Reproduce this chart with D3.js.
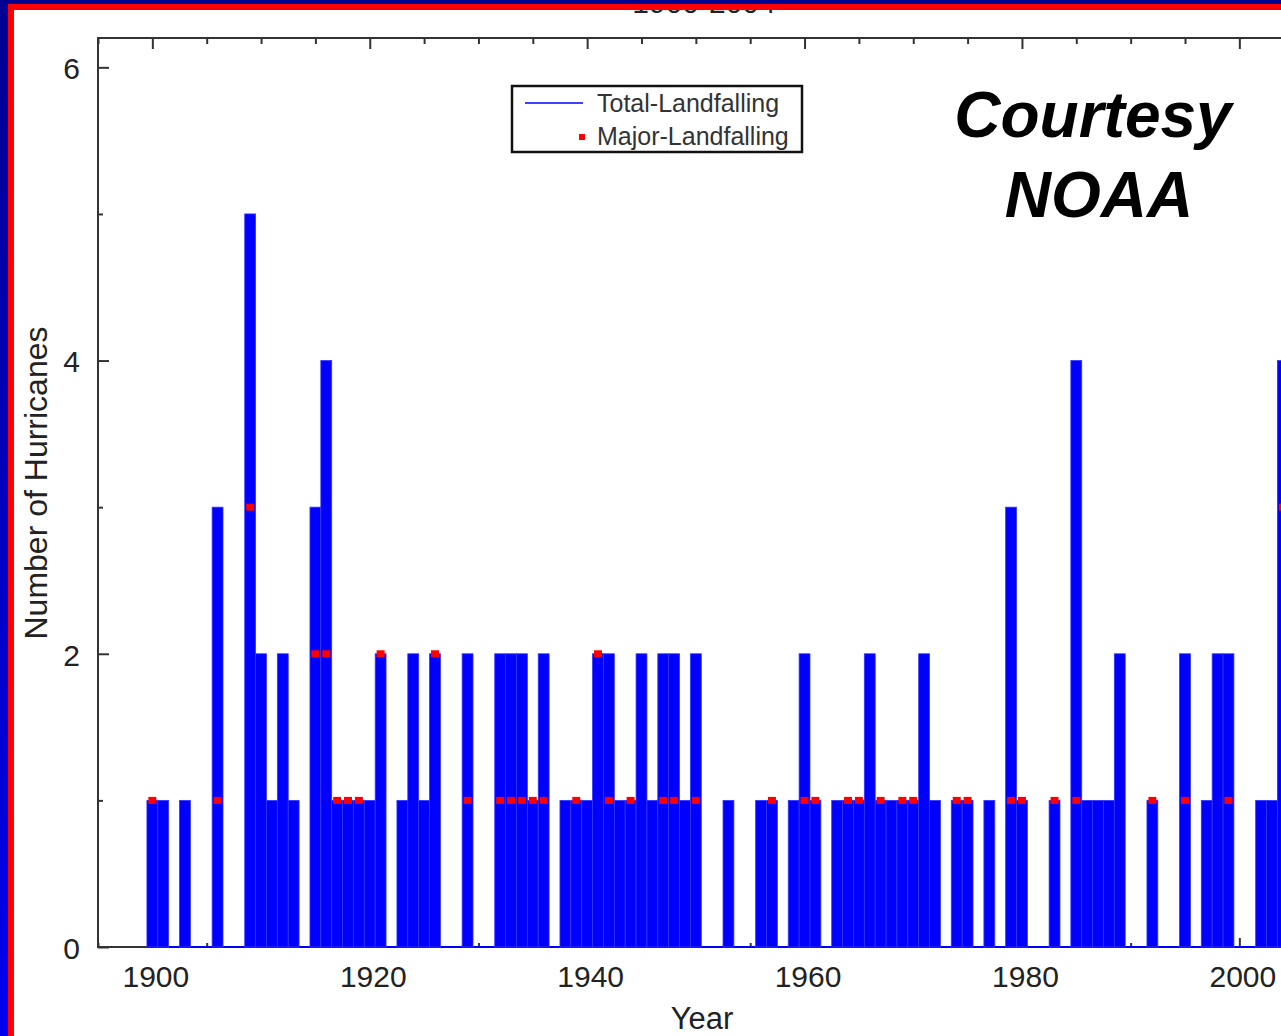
<!DOCTYPE html>
<html>
<head>
<meta charset="utf-8">
<script src="https://cdn.jsdelivr.net/npm/d3@7"></script>
<style>
  html, body { margin: 0; padding: 0; background: #fff; overflow: hidden; }
  text { font-family: "Liberation Sans", Arial, sans-serif; }
</style>
</head>
<body>
<svg id="chart" width="1281" height="1036"></svg>
<script>
// landfalling hurricanes per year (years with zero are left out)
var years = [1900, 1901, 1903, 1906, 1909, 1910, 1911, 1912, 1913, 1915, 1916, 1917, 1918, 1919, 1920,
  1921, 1923, 1924, 1925, 1926, 1929, 1932, 1933, 1934, 1935, 1936, 1938, 1939, 1940, 1941, 1942,
  1943, 1944, 1945, 1946, 1947, 1948, 1949, 1950, 1953, 1956, 1957, 1959, 1960, 1961, 1963, 1964,
  1965, 1966, 1967, 1968, 1969, 1970, 1971, 1972, 1974, 1975, 1977, 1979, 1980, 1983, 1985, 1986,
  1987, 1988, 1989, 1992, 1995, 1997, 1998, 1999, 2002, 2003, 2004];
var totalLandfalling = [1, 1, 1, 3, 5, 2, 1, 2, 1, 3, 4, 1, 1, 1, 1,
  2, 1, 2, 1, 2, 2, 2, 2, 2, 1, 2, 1, 1, 1, 2, 2,
  1, 1, 2, 1, 2, 2, 1, 2, 1, 1, 1, 1, 2, 1, 1, 1,
  1, 2, 1, 1, 1, 1, 2, 1, 1, 1, 1, 3, 1, 1, 4, 1,
  1, 1, 2, 1, 2, 1, 2, 2, 1, 1, 4];
var majorLandfalling = [1, 0, 0, 1, 3, 0, 0, 0, 0, 2, 2, 1, 1, 1, 0,
  2, 0, 0, 0, 2, 1, 1, 1, 1, 1, 1, 0, 1, 0, 2, 1,
  0, 1, 0, 0, 1, 1, 0, 1, 0, 0, 1, 0, 1, 1, 0, 1,
  1, 0, 1, 0, 1, 1, 0, 0, 1, 1, 0, 1, 1, 1, 1, 0,
  0, 0, 0, 1, 1, 0, 0, 1, 0, 0, 3];

var yMajorTicks = [0, 2, 4, 6];
var yMinorTicks = [1, 3, 5];
var xLabelTicks = [1900, 1920, 1940, 1960, 1980, 2000];
var legendLabels = ["Total-Landfalling", "Major-Landfalling"];

var svg = d3.select("#chart"),
    width = +svg.attr("width"),
    height = +svg.attr("height");

var frameLeft = 98, frameTop = 38, baseY = 947;

var x = d3.scaleLinear().domain([1895, 2010]).range([frameLeft, frameLeft + 115 * 10.87]);
var y = d3.scaleLinear().domain([0, 6.2]).range([baseY, frameTop]);

var data = years.map(function(yr, i) {
  return { year: yr, total: totalLandfalling[i], major: majorLandfalling[i] };
});

// slide frame
var defs = svg.append("defs");
var grad = defs.append("linearGradient").attr("id", "edge").attr("x1", 0).attr("y1", 0).attr("x2", 0).attr("y2", 1);
grad.append("stop").attr("offset", "0%").attr("stop-color", "#000090");
grad.append("stop").attr("offset", "100%").attr("stop-color", "#0000f0");
svg.append("rect").attr("width", width).attr("height", height).attr("fill", "url(#edge)");
svg.append("rect").attr("x", 8).attr("y", 4).attr("width", width).attr("height", height).attr("fill", "#ff0000");
svg.append("rect").attr("x", 14).attr("y", 10).attr("width", width).attr("height", height).attr("fill", "#fff");

// title, mostly hidden under the frame (as in the slide)
var chart = svg.append("g");
chart.append("text")
  .attr("x", 704).attr("y", 13)
  .attr("text-anchor", "middle")
  .attr("font-size", 30).attr("fill", "#222")
  .text("1900-2004");

// axes
function styleAxis(g) {
  g.select(".domain").remove();
  g.selectAll(".tick line").attr("stroke", "#333").attr("stroke-width", 2);
}
var minorYears = d3.range(1895, 2011, 5).filter(function(v) { return xLabelTicks.indexOf(v) < 0; });

chart.append("g").attr("transform", "translate(0," + frameTop + ")")
  .call(d3.axisTop(x).tickValues(minorYears).tickSize(-6).tickFormat(""))
  .call(styleAxis);
chart.append("g").attr("transform", "translate(0," + frameTop + ")")
  .call(d3.axisTop(x).tickValues(xLabelTicks).tickSize(-11).tickFormat(""))
  .call(styleAxis);

chart.append("g").attr("transform", "translate(0," + baseY + ")")
  .call(d3.axisBottom(x).tickValues(minorYears).tickSize(-4).tickFormat(""))
  .call(styleAxis);
var xAxis = chart.append("g").attr("transform", "translate(0," + baseY + ")")
  .call(d3.axisBottom(x).tickValues(xLabelTicks).tickSize(-9).tickPadding(19).tickFormat(d3.format("d")))
  .call(styleAxis);
xAxis.selectAll("text").attr("font-size", 30).attr("fill", "#222").attr("dx", 3)
  .style("font-family", "'Liberation Sans', Arial, sans-serif");

chart.append("g").attr("transform", "translate(" + frameLeft + ",0)")
  .call(d3.axisLeft(y).tickValues(yMinorTicks).tickSize(-5).tickFormat(""))
  .call(styleAxis);
var yAxis = chart.append("g").attr("transform", "translate(" + frameLeft + ",0)")
  .call(d3.axisLeft(y).tickValues(yMajorTicks).tickSize(-11).tickPadding(18).tickFormat(d3.format("d")))
  .call(styleAxis);
yAxis.selectAll("text").attr("font-size", 30).attr("fill", "#222").attr("dy", "0.38em")
  .style("font-family", "'Liberation Sans', Arial, sans-serif");

// frame lines
chart.append("path")
  .attr("d", "M" + width + "," + frameTop + "H" + frameLeft + "V" + baseY + "H" + width)
  .attr("fill", "none").attr("stroke", "#333").attr("stroke-width", 2);

// total bars
var barW = x(1901) - x(1900);
chart.append("line")
  .attr("x1", x(1899.5)).attr("x2", width)
  .attr("y1", baseY).attr("y2", baseY)
  .attr("stroke", "#0000ff").attr("stroke-width", 2);
chart.append("g").selectAll("rect")
  .data(data)
  .enter().append("rect")
  .attr("x", function(d) { return x(d.year) - barW / 2; })
  .attr("y", function(d) { return y(d.total); })
  .attr("width", barW)
  .attr("height", function(d) { return baseY - y(d.total); })
  .attr("fill", "#0000ff")
  .attr("stroke", "#3535ff")
  .attr("stroke-width", 0.8);

// major markers
chart.append("g").selectAll("rect")
  .data(data.filter(function(d) { return d.major > 0; }))
  .enter().append("rect")
  .attr("x", function(d) { return x(d.year) - 4; })
  .attr("y", function(d) { return y(d.major) - 3.5; })
  .attr("width", 8).attr("height", 7)
  .attr("fill", "#ff0000");

// legend
var legend = chart.append("g").attr("transform", "translate(512,86)");
legend.append("rect").attr("width", 290).attr("height", 66)
  .attr("fill", "#fff").attr("stroke", "#111").attr("stroke-width", 2.5);
legend.append("line").attr("x1", 13).attr("x2", 71).attr("y1", 17).attr("y2", 17)
  .attr("stroke", "#0000ff").attr("stroke-width", 1.5);
legend.append("rect").attr("x", 67).attr("y", 48).attr("width", 6).attr("height", 6).attr("fill", "#ff0000");
legend.selectAll("text.lab")
  .data(legendLabels)
  .enter().append("text")
  .attr("class", "lab")
  .attr("x", 85)
  .attr("y", function(d, i) { return 26 + i * 33; })
  .attr("font-size", 25).attr("fill", "#333")
  .text(function(d) { return d; });

// axis titles
chart.append("text")
  .attr("transform", "translate(47,483) rotate(-90)")
  .attr("text-anchor", "middle")
  .attr("font-size", 32).attr("fill", "#222")
  .text("Number of Hurricanes");
chart.append("text")
  .attr("x", 702).attr("y", 1029)
  .attr("text-anchor", "middle")
  .attr("font-size", 31).attr("fill", "#222")
  .text("Year");

// credit
var credit = chart.append("text")
  .attr("text-anchor", "middle")
  .attr("font-size", 64).attr("font-weight", "bold").attr("font-style", "italic")
  .attr("fill", "#000");
credit.append("tspan").attr("x", 1093).attr("y", 137).text("Courtesy");
credit.append("tspan").attr("x", 1099).attr("y", 217).text("NOAA");

// redraw frame bands over the title
svg.append("rect").attr("width", width).attr("height", 4).attr("fill", "#000090");
svg.append("rect").attr("x", 8).attr("y", 4).attr("width", width).attr("height", 6).attr("fill", "#ff0000");
</script>
</body>
</html>
